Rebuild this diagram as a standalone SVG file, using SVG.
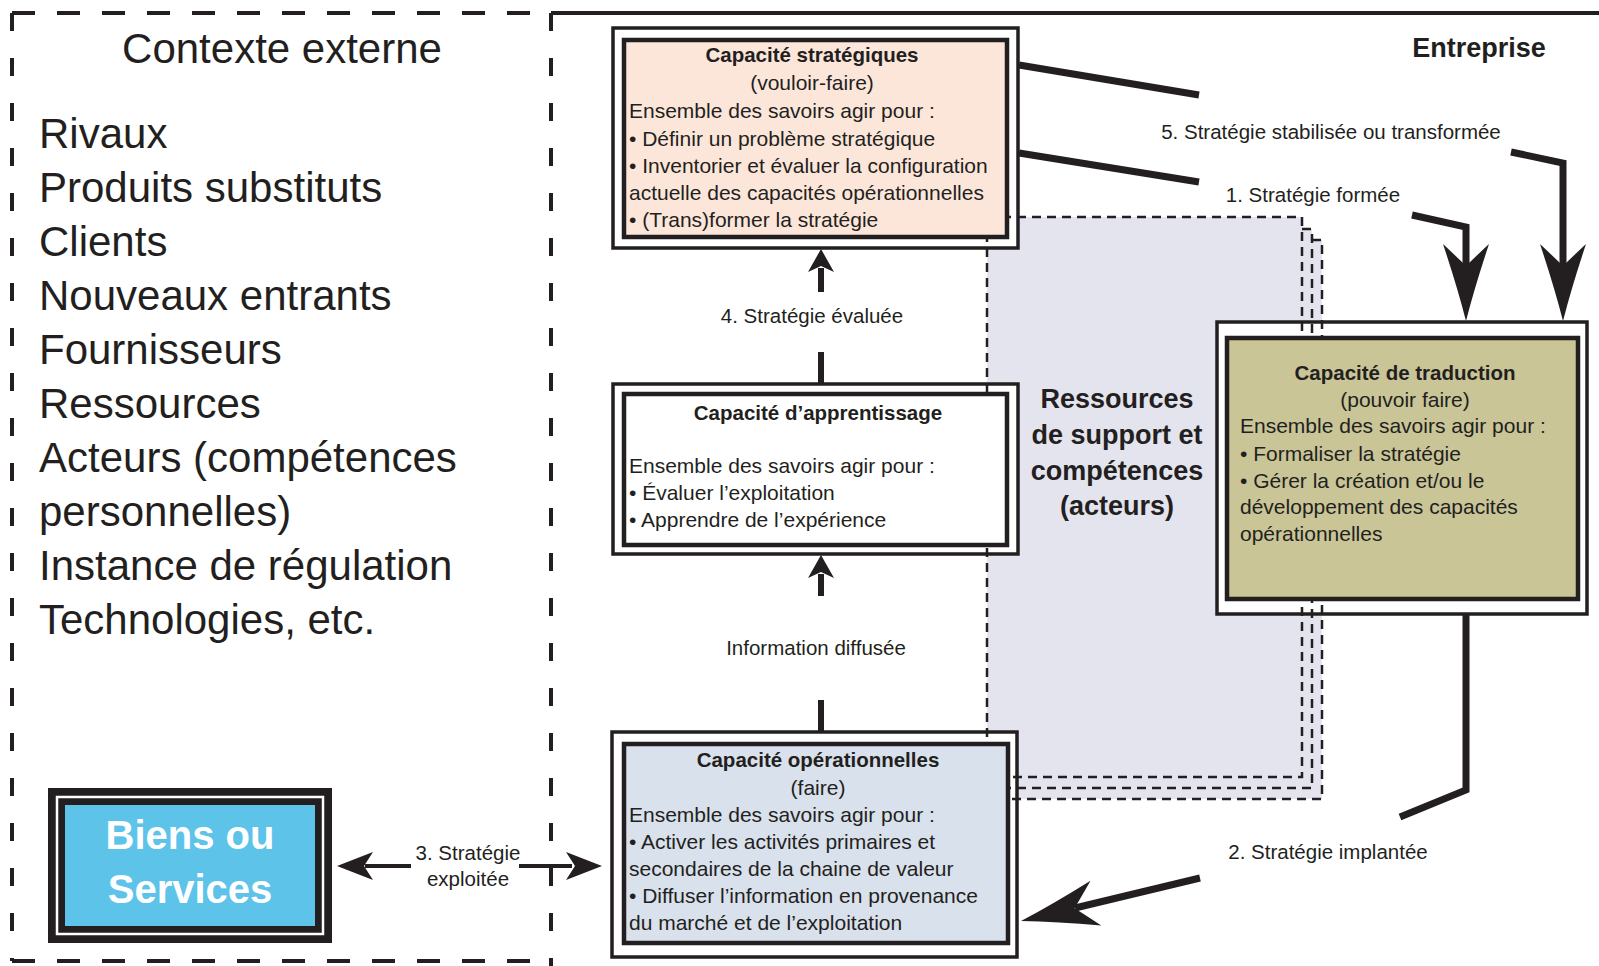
<svg xmlns="http://www.w3.org/2000/svg" width="1599" height="966" viewBox="0 0 1599 966">
<style>
text{font-family:"Liberation Sans",Arial,sans-serif;fill:#231f20}
.big{font-size:42px}
.body{font-size:21px}
.lbl{font-size:20.5px}
.ttl{font-size:20.5px;font-weight:bold}
.mid{text-anchor:middle}
.outer{fill:#fff;stroke:#231f20;stroke-width:3.5}
.inner{stroke:#231f20;stroke-width:4.5}
.conn{stroke:#231f20;fill:none;stroke-linecap:butt}
.frameH{stroke:#231f20;stroke-width:4;stroke-dasharray:23 22}
.frameV{stroke:#231f20;stroke-width:4;stroke-dasharray:18 27}
.sdash{fill:none;stroke:#231f20;stroke-width:2.5;stroke-dasharray:9 6}
</style>
<defs>
<path id="bigHead" d="M0,0 Q-35,-9 -77,-23 Q-62,-7 -55,0 Q-62,7 -77,23 Q-35,9 0,0 Z" fill="#231f20"/>
<path id="midHead" d="M0,0 L-36,-14 L-27,0 L-36,14 Z" fill="#231f20"/>
<path id="smallHead" d="M0,0 L-23,-13 L-17,0 L-23,13 Z" fill="#231f20"/>
</defs>
<rect width="1599" height="966" fill="#fff"/>

<g id="frames">
<line class="frameH" x1="12" y1="13" x2="551" y2="13"/>
<line class="frameV" x1="12" y1="13" x2="12" y2="961"/>
<line class="frameH" x1="12" y1="961" x2="551" y2="961"/>
<line class="frameV" x1="551" y1="13" x2="551" y2="966"/>
<line x1="551" y1="13" x2="1599" y2="13" stroke="#231f20" stroke-width="4"/>
</g>

<g id="contexte">
<text class="big mid" x="282" y="63">Contexte externe</text>
<text class="big" x="39" y="148">Rivaux</text>
<text class="big" x="39" y="202">Produits substituts</text>
<text class="big" x="39" y="256">Clients</text>
<text class="big" x="39" y="310">Nouveaux entrants</text>
<text class="big" x="39" y="364">Fournisseurs</text>
<text class="big" x="39" y="418">Ressources</text>
<text class="big" x="39" y="472">Acteurs (compétences</text>
<text class="big" x="39" y="526">personnelles)</text>
<text class="big" x="39" y="580">Instance de régulation</text>
<text class="big" x="39" y="634">Technologies, etc.</text>
</g>

<g id="entreprise">
<text class="mid" x="1479" y="57" style="font-size:27px;font-weight:bold">Entreprise</text>
</g>

<g id="ressources-fill">
<path d="M987,217 H1302 V229 H1312 V240 H1322 V799 H987 Z" fill="#e4e4ee"/>
</g>

<g id="outers">
<rect class="outer" x="613" y="28" width="405" height="220"/>
<rect class="outer" x="613" y="384" width="405" height="170"/>
<rect class="outer" x="612" y="732" width="405" height="225"/>
<rect class="outer" x="1217" y="322" width="370" height="292"/>
</g>

<g id="ressources">
<rect class="sdash" x="987" y="217" width="315" height="560"/>
<path class="sdash" d="M1302,229 H1312 V788 H987"/>
<path class="sdash" d="M1312,240 H1322 V799 H987"/>
<text class="mid" x="1117" y="408" style="font-size:27px;font-weight:bold">Ressources</text>
<text class="mid" x="1117" y="444" style="font-size:27px;font-weight:bold">de support et</text>
<text class="mid" x="1117" y="480" style="font-size:27px;font-weight:bold">compétences</text>
<text class="mid" x="1117" y="515" style="font-size:27px;font-weight:bold">(acteurs)</text>
</g>

<g id="cap-strategiques">
<rect class="inner" x="624" y="40" width="383" height="197" fill="#fce6da"/>
<text class="ttl mid" x="812" y="62">Capacité stratégiques</text>
<text class="body mid" x="812" y="90">(vouloir-faire)</text>
<text class="body" x="629" y="118">Ensemble des savoirs agir pour :</text>
<text class="body" x="629" y="146">• Définir un problème stratégique</text>
<text class="body" x="629" y="173">• Inventorier et évaluer la configuration</text>
<text class="body" x="629" y="200">actuelle des capacités opérationnelles</text>
<text class="body" x="629" y="227">• (Trans)former la stratégie</text>
</g>

<g id="cap-apprentissage">
<rect class="inner" x="624" y="394" width="383" height="151" fill="#fff"/>
<text class="ttl mid" x="818" y="420">Capacité d’apprentissage</text>
<text class="body" x="629" y="473">Ensemble des savoirs agir pour :</text>
<text class="body" x="629" y="500">• Évaluer l’exploitation</text>
<text class="body" x="629" y="527">• Apprendre de l’expérience</text>
</g>

<g id="cap-operationnelles">
<rect class="inner" x="624" y="744" width="384" height="199" fill="#d9e1ec"/>
<text class="ttl mid" x="818" y="767">Capacité opérationnelles</text>
<text class="body mid" x="818" y="795">(faire)</text>
<text class="body" x="629" y="822">Ensemble des savoirs agir pour :</text>
<text class="body" x="629" y="849">• Activer les activités primaires et</text>
<text class="body" x="629" y="876">secondaires de la chaine de valeur</text>
<text class="body" x="629" y="903">• Diffuser l’information en provenance</text>
<text class="body" x="629" y="930">du marché et de l’exploitation</text>
</g>

<g id="cap-traduction">
<rect class="inner" x="1227" y="338" width="351" height="261" fill="#c9c597"/>
<text class="ttl mid" x="1405" y="380">Capacité de traduction</text>
<text class="body mid" x="1405" y="407">(pouvoir faire)</text>
<text class="body" x="1240" y="433">Ensemble des savoirs agir pour :</text>
<text class="body" x="1240" y="461">• Formaliser la stratégie</text>
<text class="body" x="1240" y="488">• Gérer la création et/ou le</text>
<text class="body" x="1240" y="514">développement des capacités</text>
<text class="body" x="1240" y="541">opérationnelles</text>
</g>

<g id="biens-services">
<rect x="48" y="788" width="284" height="155" fill="#231f20"/>
<rect x="57" y="797" width="266" height="137" fill="none" stroke="#fff" stroke-width="2.5"/>
<rect x="65" y="805" width="250" height="121" fill="#5ec3e9"/>
<text class="mid" x="190" y="849" style="font-size:40px;font-weight:bold;fill:#fff">Biens ou</text>
<text class="mid" x="190" y="903" style="font-size:40px;font-weight:bold;fill:#fff">Services</text>
</g>

<g id="connectors">
<line class="conn" x1="1019" y1="65" x2="1199" y2="95" stroke-width="7"/>
<line class="conn" x1="1019" y1="153" x2="1199" y2="182" stroke-width="7"/>
<path class="conn" d="M1511,152 L1563,163 V270" stroke-width="7"/>
<use href="#bigHead" transform="translate(1563,321) rotate(90)"/>
<path class="conn" d="M1412,215 L1466,227 V270" stroke-width="7"/>
<use href="#bigHead" transform="translate(1466,321) rotate(90)"/>
<path class="conn" d="M1466,614 V790 L1400,817" stroke-width="7"/>
<line class="conn" x1="1200" y1="878" x2="1075" y2="908" stroke-width="7"/>
<use href="#bigHead" transform="translate(1021,921) rotate(166.5)"/>
<line class="conn" x1="821" y1="268" x2="821" y2="292" stroke-width="6"/>
<use href="#smallHead" transform="translate(821,249) rotate(-90)"/>
<line class="conn" x1="821" y1="352" x2="821" y2="384" stroke-width="6"/>
<line class="conn" x1="821" y1="574" x2="821" y2="596" stroke-width="6"/>
<use href="#smallHead" transform="translate(821,555) rotate(-90)"/>
<line class="conn" x1="821" y1="700" x2="821" y2="732" stroke-width="6"/>
<line class="conn" x1="365" y1="866" x2="411" y2="866" stroke-width="4"/>
<use href="#midHead" transform="translate(337,866) rotate(180)"/>
<line class="conn" x1="519" y1="866" x2="572" y2="866" stroke-width="4"/>
<use href="#midHead" transform="translate(602,866)"/>
<text class="lbl mid" x="1331" y="139">5. Stratégie stabilisée ou transformée</text>
<text class="lbl mid" x="1313" y="202">1. Stratégie formée</text>
<text class="lbl mid" x="1328" y="859">2. Stratégie implantée</text>
<text class="lbl mid" x="812" y="323">4. Stratégie évaluée</text>
<text class="lbl mid" x="816" y="655">Information diffusée</text>
<text class="lbl mid" x="468" y="860">3. Stratégie</text>
<text class="lbl mid" x="468" y="886">exploitée</text>
</g>
</svg>
